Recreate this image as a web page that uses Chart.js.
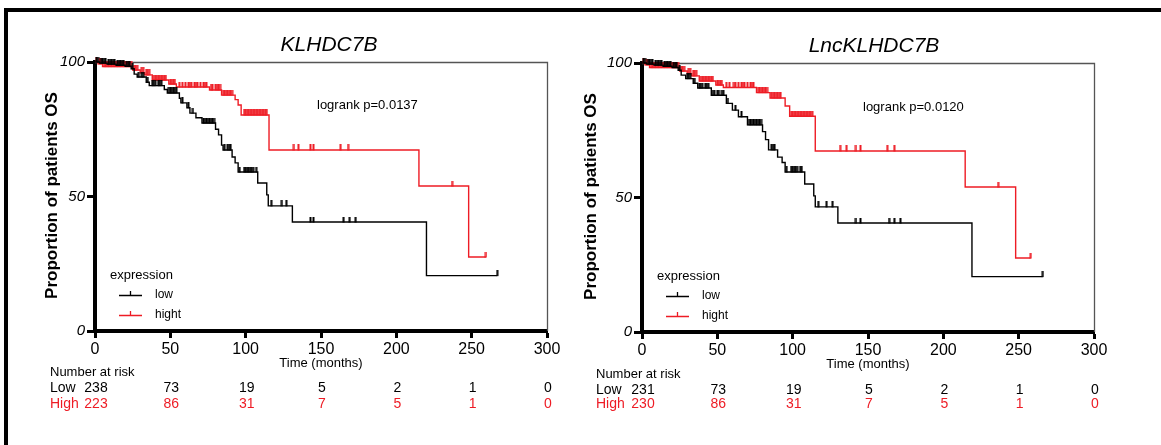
<!DOCTYPE html>
<html>
<head>
<meta charset="utf-8">
<script src="https://cdn.jsdelivr.net/npm/chart.js@4.4.0/dist/chart.umd.min.js"></script>
<style>
  html, body { margin: 0; padding: 0; background: #fff; }
  #wrap { position: relative; width: 1161px; height: 445px; overflow: hidden; background: #fff; }
  #wrap canvas { position: absolute; left: 0; top: 0; }
  .frameTop { position: absolute; left: 4px; top: 8px; width: 1157px; height: 4px; background: #000; }
  .frameLeft { position: absolute; left: 4px; top: 8px; width: 4px; height: 437px; background: #000; }
</style>
</head>
<body>
<div id="wrap">
  <div class="frameTop"></div>
  <div class="frameLeft"></div>
  <canvas id="kmLeft" width="1161" height="445"></canvas>
  <canvas id="kmRight" width="1161" height="445"></canvas>
</div>
<script>
const RED = '#ee1c25';
const FONT = '"Liberation Sans", Arial, sans-serif';

const timeTicks = [0, 50, 100, 150, 200, 250, 300];

// KLHDC7B (left panel)
const klLowTime = [0, 3, 8, 14, 20, 24, 26, 28, 34, 36, 46, 48, 56, 57, 61, 63, 67, 71, 80, 82, 84, 85, 91, 93, 95, 108, 114, 115, 131, 220, 267];
const klLowSurv = [100, 99.6, 99.2, 98.8, 98.4, 97.5, 95.5, 94.4, 92.5, 91.2, 89.8, 88.5, 86.5, 84.8, 83, 81, 79.3, 77.3, 75, 72.9, 69.1, 67.3, 64.7, 62.5, 59.1, 55, 50.6, 46.5, 40.5, 20.6, 20.6];
const klLowCensor = [1, 2, 4, 5, 6, 7, 9, 10, 11, 12, 13, 15, 16, 17, 18, 19, 21, 22, 23, 25, 29, 31, 32, 35, 38, 39, 40, 42, 43, 44, 49, 50, 51, 52, 53, 54, 58, 62, 65, 72, 73, 74, 75, 76, 77, 78, 79, 86, 88, 89, 90, 96, 99, 100, 101, 102, 103, 104, 105, 107, 117, 124, 127, 143, 145, 165, 169, 173, 267];
const klHighTime = [0, 2, 5, 25, 30, 33, 38, 49, 54, 76, 84, 93, 95, 97, 115.5, 215, 248, 259.5];
const klHighSurv = [100, 99.3, 98.3, 97, 96, 95.2, 93.3, 91.8, 90.7, 89.6, 87.7, 86, 84, 80.3, 67.3, 53.9, 27.5, 27.5];
const klHighCensor = [1, 3, 4, 6, 7, 8, 9, 10, 11, 12, 13, 14, 15, 16, 17, 18, 19, 20, 21, 22, 23, 24, 26, 27, 28, 31, 32, 34, 35, 36, 39, 40, 41, 42, 43, 44, 45, 46, 47, 50, 51, 52, 53, 56, 58, 60, 62, 63, 64, 66, 67, 68, 70, 72, 73, 74, 77, 78, 80, 81, 82, 83, 85, 86, 87, 88, 89, 90, 91, 99, 100, 101, 102, 103, 104, 105, 106, 107, 108, 109, 110, 111, 112, 113, 114, 132, 135, 143, 145, 163, 168, 237, 259.5];
const klRiskLow = [238, 73, 19, 5, 2, 1, 0];
const klRiskHigh = [223, 86, 31, 7, 5, 1, 0];

// LncKLHDC7B (right panel)
const lncLowTime = [0, 3, 8, 14, 20, 24, 26, 29, 34, 37, 46, 56, 60, 64, 70, 80, 82, 84, 90, 93, 95, 108, 114, 115, 130, 219, 266];
const lncLowSurv = [100, 99.6, 99.2, 98.8, 98.3, 97.3, 95.5, 94.2, 92.5, 90.7, 88, 85, 82.5, 80, 77, 74.5, 71.5, 67.7, 65, 63, 59.5, 55, 50.6, 46.5, 40.5, 20.6, 20.6];
const lncLowCensor = [1, 2, 4, 5, 6, 7, 9, 10, 11, 12, 13, 15, 16, 17, 18, 19, 21, 22, 23, 25, 30, 31, 32, 35, 38, 39, 40, 42, 43, 44, 47, 48, 50, 51, 53, 54, 57, 62, 66, 71, 72, 73, 74, 75, 76, 77, 78, 79, 86, 87, 88, 96, 99, 100, 101, 102, 103, 105, 106, 117, 122.5, 126.5, 142, 145, 164, 167.5, 171.5, 266];
const lncHighTime = [0, 2, 5, 25, 30, 33, 38, 49, 54, 76, 85, 95, 98, 115, 214.5, 248, 258];
const lncHighSurv = [100, 99.3, 98.3, 97, 96, 95.2, 93.3, 91.8, 90.9, 89, 87, 84, 80.2, 67.3, 53.9, 27.5, 27.5];
const lncHighCensor = [1, 3, 4, 6, 7, 8, 9, 10, 11, 12, 13, 14, 15, 16, 17, 18, 19, 20, 21, 22, 23, 24, 26, 27, 28, 31, 32, 34, 35, 36, 39, 40, 41, 42, 43, 44, 45, 46, 47, 50, 51, 52, 53, 56, 58, 61, 62, 64, 66, 67, 68, 70, 72, 73, 74, 77, 78, 79, 80, 81, 82, 83, 86, 87, 88, 89, 90, 91, 92, 99, 100, 101, 102, 103, 104, 105, 106, 107, 108, 109, 110, 111, 112, 113, 131.5, 135.8, 142, 145, 162.8, 167.5, 236.4, 258];
const lncRiskLow = [231, 73, 19, 5, 2, 1, 0];
const lncRiskHigh = [230, 86, 31, 7, 5, 1, 0];

Chart.defaults.font.family = FONT;
Chart.defaults.color = '#000';

// survival value of a step curve at time t
function survAt(times, surv, t) {
  let v = surv[0];
  for (let i = 0; i < times.length; i++) {
    if (times[i] <= t) v = surv[i];
  }
  return v;
}

// small upward censor tick
function tickMark(color) {
  const c = document.createElement('canvas');
  c.width = 3;
  c.height = 11;
  const g = c.getContext('2d');
  g.fillStyle = color;
  g.fillRect(0.5, 0, 2, 6);
  return c;
}

function makePanel(id, p) {
  const lowLine = p.lowTime.map((t, i) => ({ x: t, y: p.lowSurv[i] }));
  const highLine = p.highTime.map((t, i) => ({ x: t, y: p.highSurv[i] }));
  const lowCens = p.lowCensor.map(t => ({ x: t, y: survAt(p.lowTime, p.lowSurv, t) }));
  const highCens = p.highCensor.map(t => ({ x: t, y: survAt(p.highTime, p.highSurv, t) }));

  const frame = {
    id: 'frame_' + id,
    beforeDatasetsDraw(chart) {
      const { ctx, chartArea: a } = chart;
      ctx.save();
      ctx.strokeStyle = '#555';
      ctx.lineWidth = 1.3;
      ctx.beginPath();
      ctx.moveTo(a.left, a.top + 0.5);
      ctx.lineTo(a.right + 0.5, a.top + 0.5);
      ctx.lineTo(a.right + 0.5, a.bottom);
      ctx.stroke();
      ctx.restore();
    },
    afterDraw(chart) {
      const { ctx, chartArea: a } = chart;
      const x = chart.scales.x;
      const midX = (a.left + a.right) / 2;
      ctx.save();
      ctx.fillStyle = '#000';
      ctx.textBaseline = 'middle';

      // title
      ctx.textAlign = 'center';
      ctx.font = 'italic 21px ' + FONT;
      ctx.fillText(p.title, midX + p.titleDx, a.top - 17);

      // logrank
      ctx.textAlign = 'left';
      ctx.font = '13px ' + FONT;
      ctx.fillText(p.pText, a.left + p.pDx, a.top + p.pDy);

      // y axis title
      ctx.save();
      ctx.translate(a.left + p.yLabelDx, (a.top + a.bottom) / 2 - 1);
      ctx.rotate(-Math.PI / 2);
      ctx.textAlign = 'center';
      ctx.font = 'bold 17px ' + FONT;
      ctx.fillText('Proportion of patients OS', 0, 0);
      ctx.restore();

      // x axis title
      ctx.textAlign = 'center';
      ctx.font = '13px ' + FONT;
      ctx.fillText('Time (months)', midX, a.bottom + 32);

      // legend
      ctx.textAlign = 'left';
      ctx.font = '13px ' + FONT;
      ctx.fillText('expression', a.left + 15, a.bottom - 56);
      [['low', '#000', a.bottom - 36], ['hight', RED, a.bottom - 16]].forEach(([lab, col, y]) => {
        ctx.strokeStyle = col;
        ctx.lineWidth = 1.3;
        ctx.beginPath();
        ctx.moveTo(a.left + 24, y + 0.5);
        ctx.lineTo(a.left + 47, y + 0.5);
        ctx.moveTo(a.left + 35.5, y + 0.5);
        ctx.lineTo(a.left + 35.5, y - 4);
        ctx.stroke();
        ctx.fillStyle = '#000';
        ctx.font = '12px ' + FONT;
        ctx.fillText(lab, a.left + 60, y);
      });

      // number at risk
      ctx.font = '13px ' + FONT;
      ctx.fillStyle = '#000';
      ctx.fillText('Number at risk', a.left + p.riskDx, a.bottom + p.riskY[0]);
      [['Low', '#000', p.riskLow, p.riskY[1]], ['High', RED, p.riskHigh, p.riskY[2]]].forEach(([lab, col, vals, dy]) => {
        ctx.fillStyle = col;
        ctx.font = '14px ' + FONT;
        ctx.textAlign = 'left';
        ctx.fillText(lab, a.left + p.riskDx, a.bottom + dy);
        ctx.textAlign = 'center';
        vals.forEach((v, i) => {
          ctx.fillText(String(v), x.getPixelForValue(timeTicks[i]) + 1, a.bottom + dy);
        });
      });
      ctx.restore();
    }
  };

  return new Chart(document.getElementById(id), {
    type: 'scatter',
    data: {
      datasets: [
        { label: 'low censored', data: lowCens, showLine: false, pointStyle: tickMark('#000'), pointRadius: 3, clip: 8 },
        { label: 'low', data: lowLine, showLine: true, stepped: true, borderColor: '#000', borderWidth: 1.4, pointRadius: 0, clip: 8 },
        { label: 'hight censored', data: highCens, showLine: false, pointStyle: tickMark(RED), pointRadius: 3, clip: 8 },
        { label: 'hight', data: highLine, showLine: true, stepped: true, borderColor: RED, borderWidth: 1.4, pointRadius: 0, clip: 8 }
      ]
    },
    options: {
      responsive: false,
      animation: false,
      events: [],
      layout: { padding: p.pad },
      plugins: { legend: { display: false }, tooltip: { enabled: false } },
      scales: {
        x: {
          type: 'linear',
          min: 0,
          max: 300,
          ticks: { stepSize: 50, padding: 2, maxRotation: 0, autoSkip: false, font: { size: 16 }, color: '#000' },
          grid: { drawOnChartArea: false, drawTicks: true, tickLength: 7, tickWidth: 3, tickColor: '#000' },
          border: { display: true, color: '#000', width: 4 },
          afterFit: s => { s.height = 30; }
        },
        y: {
          min: 0,
          max: 100,
          ticks: { stepSize: 50, padding: 2, font: { size: 15, style: 'italic' }, color: '#000' },
          grid: { drawOnChartArea: false, drawTicks: true, tickLength: 8, tickWidth: 3, tickColor: '#000' },
          border: { display: true, color: '#000', width: 4 },
          afterFit: s => { s.width = 60; }
        }
      }
    },
    plugins: [frame]
  });
}

makePanel('kmLeft', {
  title: 'KLHDC7B', titleDx: 8,
  pText: 'logrank p=0.0137', pDx: 222, pDy: 43,
  yLabelDx: -43,
  riskDx: -45, riskY: [41, 57, 73],
  pad: { left: 35, top: 62, right: 614, bottom: 84 },
  lowTime: klLowTime, lowSurv: klLowSurv, lowCensor: klLowCensor,
  highTime: klHighTime, highSurv: klHighSurv, highCensor: klHighCensor,
  riskLow: klRiskLow, riskHigh: klRiskHigh
});

makePanel('kmRight', {
  title: 'LncKLHDC7B', titleDx: 6,
  pText: 'logrank p=0.0120', pDx: 221, pDy: 44,
  yLabelDx: -51,
  riskDx: -46, riskY: [42, 58, 72],
  pad: { left: 582, top: 63, right: 67, bottom: 83 },
  lowTime: lncLowTime, lowSurv: lncLowSurv, lowCensor: lncLowCensor,
  highTime: lncHighTime, highSurv: lncHighSurv, highCensor: lncHighCensor,
  riskLow: lncRiskLow, riskHigh: lncRiskHigh
});
</script>
</body>
</html>
